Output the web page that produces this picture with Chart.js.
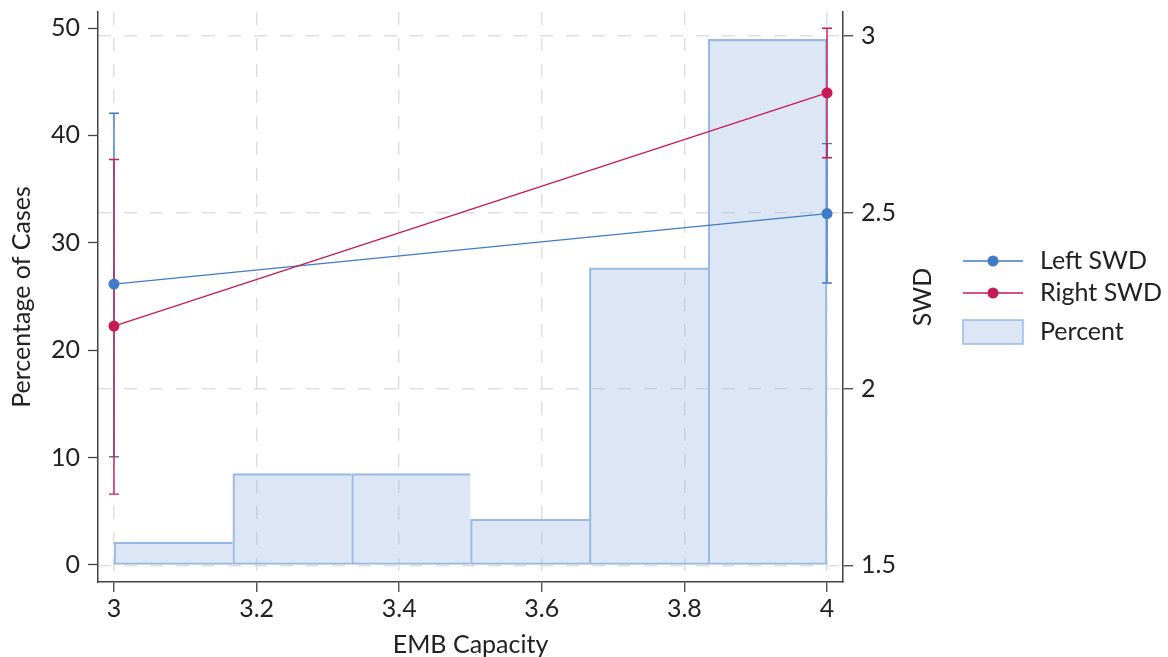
<!DOCTYPE html>
<html><head><meta charset="utf-8">
<script src="https://cdn.jsdelivr.net/npm/chart.js@4.4.0/dist/chart.umd.min.js"></script>
<style>html,body{margin:0;padding:0;background:#fff;overflow:hidden}#wrap{width:1168px;height:657px;position:relative}</style>
</head><body><div id="wrap"><canvas id="c" width="1168" height="657"></canvas></div>
<script>
// ---- data ----
const binStarts = [3, 3.1667, 3.3333, 3.5, 3.6667, 3.8333];
const binWidth = 1 / 6;
const percentValues = [2.13, 8.51, 8.51, 4.26, 27.66, 48.94];
const capacityPoints = [3, 4];
const leftSWD = [2.297, 2.497];
const leftSWDLow = [1.808, 2.300];
const leftSWDHigh = [2.781, 2.695];
const rightSWD = [2.178, 2.839];
const rightSWDLow = [1.702, 2.655];
const rightSWDHigh = [2.650, 3.022];
const xTicks = [3, 3.2, 3.4, 3.6, 3.8, 4];
const percentTicks = [0, 10, 20, 30, 40, 50];
const swdTicks = [1.5, 2, 2.5, 3];

// ---- styles ----
const BLUE = '#3f7bc6';
const RED = '#c81a52';
const BAR_FILL = 'rgba(150,180,222,0.33)';
const LEGEND_FILL = '#dce6f4';
const BAR_EDGE = '#98bce6';
const GRID = '#dfdfdf';
const AXIS = '#444444';
const TEXT = '#222222';
const FONT = 'Lato';
const FS = 25;

Chart.defaults.font.family = FONT;
Chart.defaults.color = TEXT;

const fmt = v => String(+(+v).toFixed(3));

const errorBarPlugin = {
  id: 'errorBars',
  afterDatasetDraw(chart, args) {
    if (args.index !== 2) return;
    const ctx = chart.ctx, xs = chart.scales.x, ys = chart.scales.y2;
    const series = [[leftSWDLow, leftSWDHigh, BLUE], [rightSWDLow, rightSWDHigh, RED]];
    ctx.save();
    ctx.lineWidth = 1.4;
    series.forEach(([lo, hi, col]) => {
      ctx.strokeStyle = col;
      capacityPoints.forEach((xv, i) => {
        const x = xs.getPixelForValue(xv);
        const y1 = ys.getPixelForValue(lo[i]);
        const y2 = ys.getPixelForValue(hi[i]);
        ctx.beginPath();
        ctx.moveTo(x, y1); ctx.lineTo(x, y2);
        ctx.moveTo(x - 5, y1); ctx.lineTo(x + 5, y1);
        ctx.moveTo(x - 5, y2); ctx.lineTo(x + 5, y2);
        ctx.stroke();
      });
    });
    ctx.restore();
  }
};

const legendPlugin = {
  id: 'customLegend',
  afterDraw(chart) {
    const ctx = chart.ctx, ca = chart.chartArea;
    ctx.save();
    ctx.font = FS + 'px ' + FONT;
    ctx.fillStyle = TEXT;
    ctx.textBaseline = 'middle';
    // right axis title (reads bottom to top)
    ctx.save();
    ctx.translate(ca.right + 80, (ca.top + ca.bottom) / 2);
    ctx.rotate(-Math.PI / 2);
    ctx.textAlign = 'center';
    ctx.fillText('SWD', 0, 0);
    ctx.restore();
    const ds = chart.data.datasets;
    const lx = 963, lw = 60, tx = 1040;
    const rows = [261, 293, 332];
    [0, 1].forEach(i => {
      const y = rows[i];
      ctx.strokeStyle = ds[i].borderColor;
      ctx.lineWidth = 1.3;
      ctx.beginPath(); ctx.moveTo(lx, y); ctx.lineTo(lx + lw, y); ctx.stroke();
      ctx.fillStyle = ds[i].borderColor;
      ctx.beginPath(); ctx.arc(lx + lw / 2, y, 5.5, 0, Math.PI * 2); ctx.fill();
      ctx.fillStyle = TEXT;
      ctx.textAlign = 'left';
      ctx.fillText(ds[i].label, tx, y);
    });
    const y = rows[2];
    ctx.fillStyle = LEGEND_FILL;
    ctx.fillRect(lx, y - 12, lw, 24);
    ctx.strokeStyle = BAR_EDGE; ctx.lineWidth = 1.5;
    ctx.strokeRect(lx, y - 12, lw, 24);
    ctx.fillStyle = TEXT;
    ctx.fillText(ds[2].label, tx, y);
    ctx.restore();
  }
};

const zeroPad = s => { s.paddingTop = 0; s.paddingBottom = 0; s.paddingLeft = 0; s.paddingRight = 0; };

new Chart(document.getElementById('c'), {
  data: {
    datasets: [
      { type: 'line', label: 'Left SWD', yAxisID: 'y2', order: 2,
        data: capacityPoints.map((x, i) => ({ x, y: leftSWD[i] })),
        borderColor: BLUE, backgroundColor: BLUE, borderWidth: 1.3,
        pointRadius: 5.5, pointBorderWidth: 0, pointBackgroundColor: BLUE, tension: 0 },
      { type: 'line', label: 'Right SWD', yAxisID: 'y2', order: 1,
        data: capacityPoints.map((x, i) => ({ x, y: rightSWD[i] })),
        borderColor: RED, backgroundColor: RED, borderWidth: 1.3,
        pointRadius: 5.5, pointBorderWidth: 0, pointBackgroundColor: RED, tension: 0 },
      { type: 'bar', label: 'Percent', yAxisID: 'y', order: 3,
        data: binStarts.map((s, i) => ({ x: s + binWidth / 2, y: percentValues[i] })),
        backgroundColor: BAR_FILL, borderColor: BAR_EDGE,
        borderWidth: c => ({ top: 1.5, bottom: 1.5, left: 1.5, right: c.dataIndex === percentValues.length - 1 ? 1.5 : 0 }),
        borderSkipped: false, barPercentage: 1, categoryPercentage: 1 }
    ]
  },
  options: {
    responsive: false, animation: false,
    layout: { padding: { top: 12, right: 225, bottom: 0, left: 0 } },
    plugins: { legend: { display: false }, tooltip: { enabled: false } },
    scales: {
      x: {
        type: 'linear', position: 'bottom', min: 2.9776, max: 4.0224, offset: false,
        afterBuildTicks: s => { s.ticks = xTicks.map(v => ({ value: v })); },
        afterFit: s => { s.height = 75; zeroPad(s); },
        ticks: { callback: fmt, font: { size: FS }, color: TEXT, padding: 2, maxRotation: 0, autoSkip: false },
        grid: { offset: false, color: GRID, lineWidth: 1.5, drawTicks: true, tickLength: 10, tickColor: AXIS, tickWidth: 1.3, tickBorderDash: [] },
        border: { color: AXIS, width: 1.5, dash: [13, 13] },
        title: { display: true, text: 'EMB Capacity', font: { size: FS }, color: TEXT, padding: { top: 0, bottom: -3 } }
      },
      y: {
        type: 'linear', position: 'left', min: -1.583, max: 51.49,
        afterBuildTicks: s => { s.ticks = percentTicks.map(v => ({ value: v })); },
        afterFit: s => { s.width = 98; zeroPad(s); },
        ticks: { callback: fmt, font: { size: FS }, color: TEXT, padding: 8 },
        grid: { drawOnChartArea: false, drawTicks: true, tickLength: 10, tickColor: AXIS, tickWidth: 1.3 },
        border: { color: AXIS, width: 1.5 },
        title: { display: true, text: 'Percentage of Cases', font: { size: FS }, color: TEXT, padding: { top: 7, bottom: 0 } }
      },
      y2: {
        type: 'linear', position: 'right', min: 1.453, max: 3.068,
        afterBuildTicks: s => { s.ticks = swdTicks.map(v => ({ value: v })); },
        afterFit: s => { s.width = 100; zeroPad(s); },
        ticks: { callback: fmt, font: { size: FS }, color: TEXT, padding: 8 },
        grid: { color: GRID, lineWidth: 1.5, drawOnChartArea: true, drawTicks: true, tickLength: 10, tickColor: AXIS, tickWidth: 1.3, tickBorderDash: [] },
        border: { color: AXIS, width: 1.5, dash: [13, 13] }
      }
    }
  },
  plugins: [errorBarPlugin, legendPlugin]
});
</script>
</body></html>
